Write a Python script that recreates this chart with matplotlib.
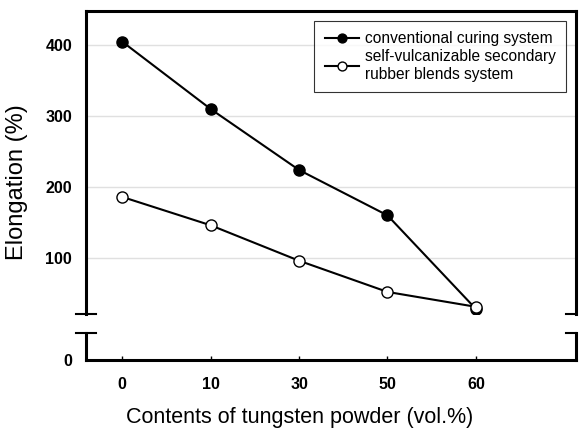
import matplotlib.pyplot as plt
import numpy as np

# Datos
contenidos = ['0', '10', '30', '50', '60']
convencional = [405, 310, 224, 160, 28]
autovulc = [186, 146, 96, 52, 31]
ticks_y = [100, 200, 300, 400]

plt.rcParams['font.family'] = ['Liberation Sans', 'DejaVu Sans']

fig = plt.figure(figsize=(5.81, 4.30), dpi=100)
# eje superior (100-400) y eje inferior (solo el 0)
ax = fig.add_axes([0.148, 0.270, 0.843, 0.704])
ax0 = fig.add_axes([0.148, 0.163, 0.843, 0.063])

x = np.arange(len(contenidos))
ax.plot(x, convencional, color='black', lw=1.5, marker='o', ms=8,
        mfc='black', mec='black', label='conventional curing system', zorder=3)
ax.plot(x, autovulc, color='black', lw=1.5, marker='o', ms=8,
        mfc='white', mec='black', mew=1.0,
        label='self-vulcanizable secondary\nrubber blends system', zorder=4)

ax.set_xlim(-0.41, 5.13)
ax.set_ylim(21, 448)
ax.set_yticks(ticks_y)
ax.set_xticks([])
ax.grid(axis='y', color='#e0e0e0', lw=1)
ax.set_axisbelow(True)
ax.tick_params(axis='y', length=0, pad=10)
for lab in ax.get_yticklabels():
    lab.set_fontweight('bold')
    lab.set_fontsize(11.5)
ax.spines['bottom'].set_visible(False)
for s in ['top', 'left', 'right']:
    ax.spines[s].set_linewidth(2.2)

ax0.set_xlim(-0.41, 5.13)
ax0.set_ylim(0, 38)
ax0.set_yticks([0])
ax0.set_xticks(x)
ax0.set_xticklabels(contenidos)
ax0.tick_params(axis='y', length=0, pad=10)
ax0.tick_params(axis='x', direction='in', length=3, width=1, pad=12)
for lab in ax0.get_xticklabels() + ax0.get_yticklabels():
    lab.set_fontweight('bold')
    lab.set_fontsize(11.5)
ax0.spines['top'].set_visible(False)
for s in ['bottom', 'left', 'right']:
    ax0.spines[s].set_linewidth(2.2)

# marcas de corte del eje
d = 0.02
kw = dict(color='black', lw=1.5, clip_on=False)
ax.plot([-d, d], [0, 0], transform=ax.transAxes, **kw)
ax.plot([1 - d, 1], [0, 0], transform=ax.transAxes, **kw)
ax0.plot([-d, d], [1, 1], transform=ax0.transAxes, **kw)
ax0.plot([1 - d, 1], [1, 1], transform=ax0.transAxes, **kw)

leg = ax.legend(loc='upper right', fontsize=11.2, frameon=True, fancybox=False,
                edgecolor='black', handlelength=2.2, labelspacing=0.2,
                borderpad=0.65, handletextpad=0.4, markerscale=0.8,
                borderaxespad=0, bbox_to_anchor=(0.98, 0.967))
leg.get_frame().set_linewidth(0.8)

fig.text(0.03, 0.577, 'Elongation (%)', rotation=90, ha='center', va='center',
         fontsize=17)
fig.text(0.515, 0.03, 'Contents of tungsten powder (vol.%)', ha='center',
         va='center', fontsize=15.5)

fig.savefig('out.png', dpi=100)
